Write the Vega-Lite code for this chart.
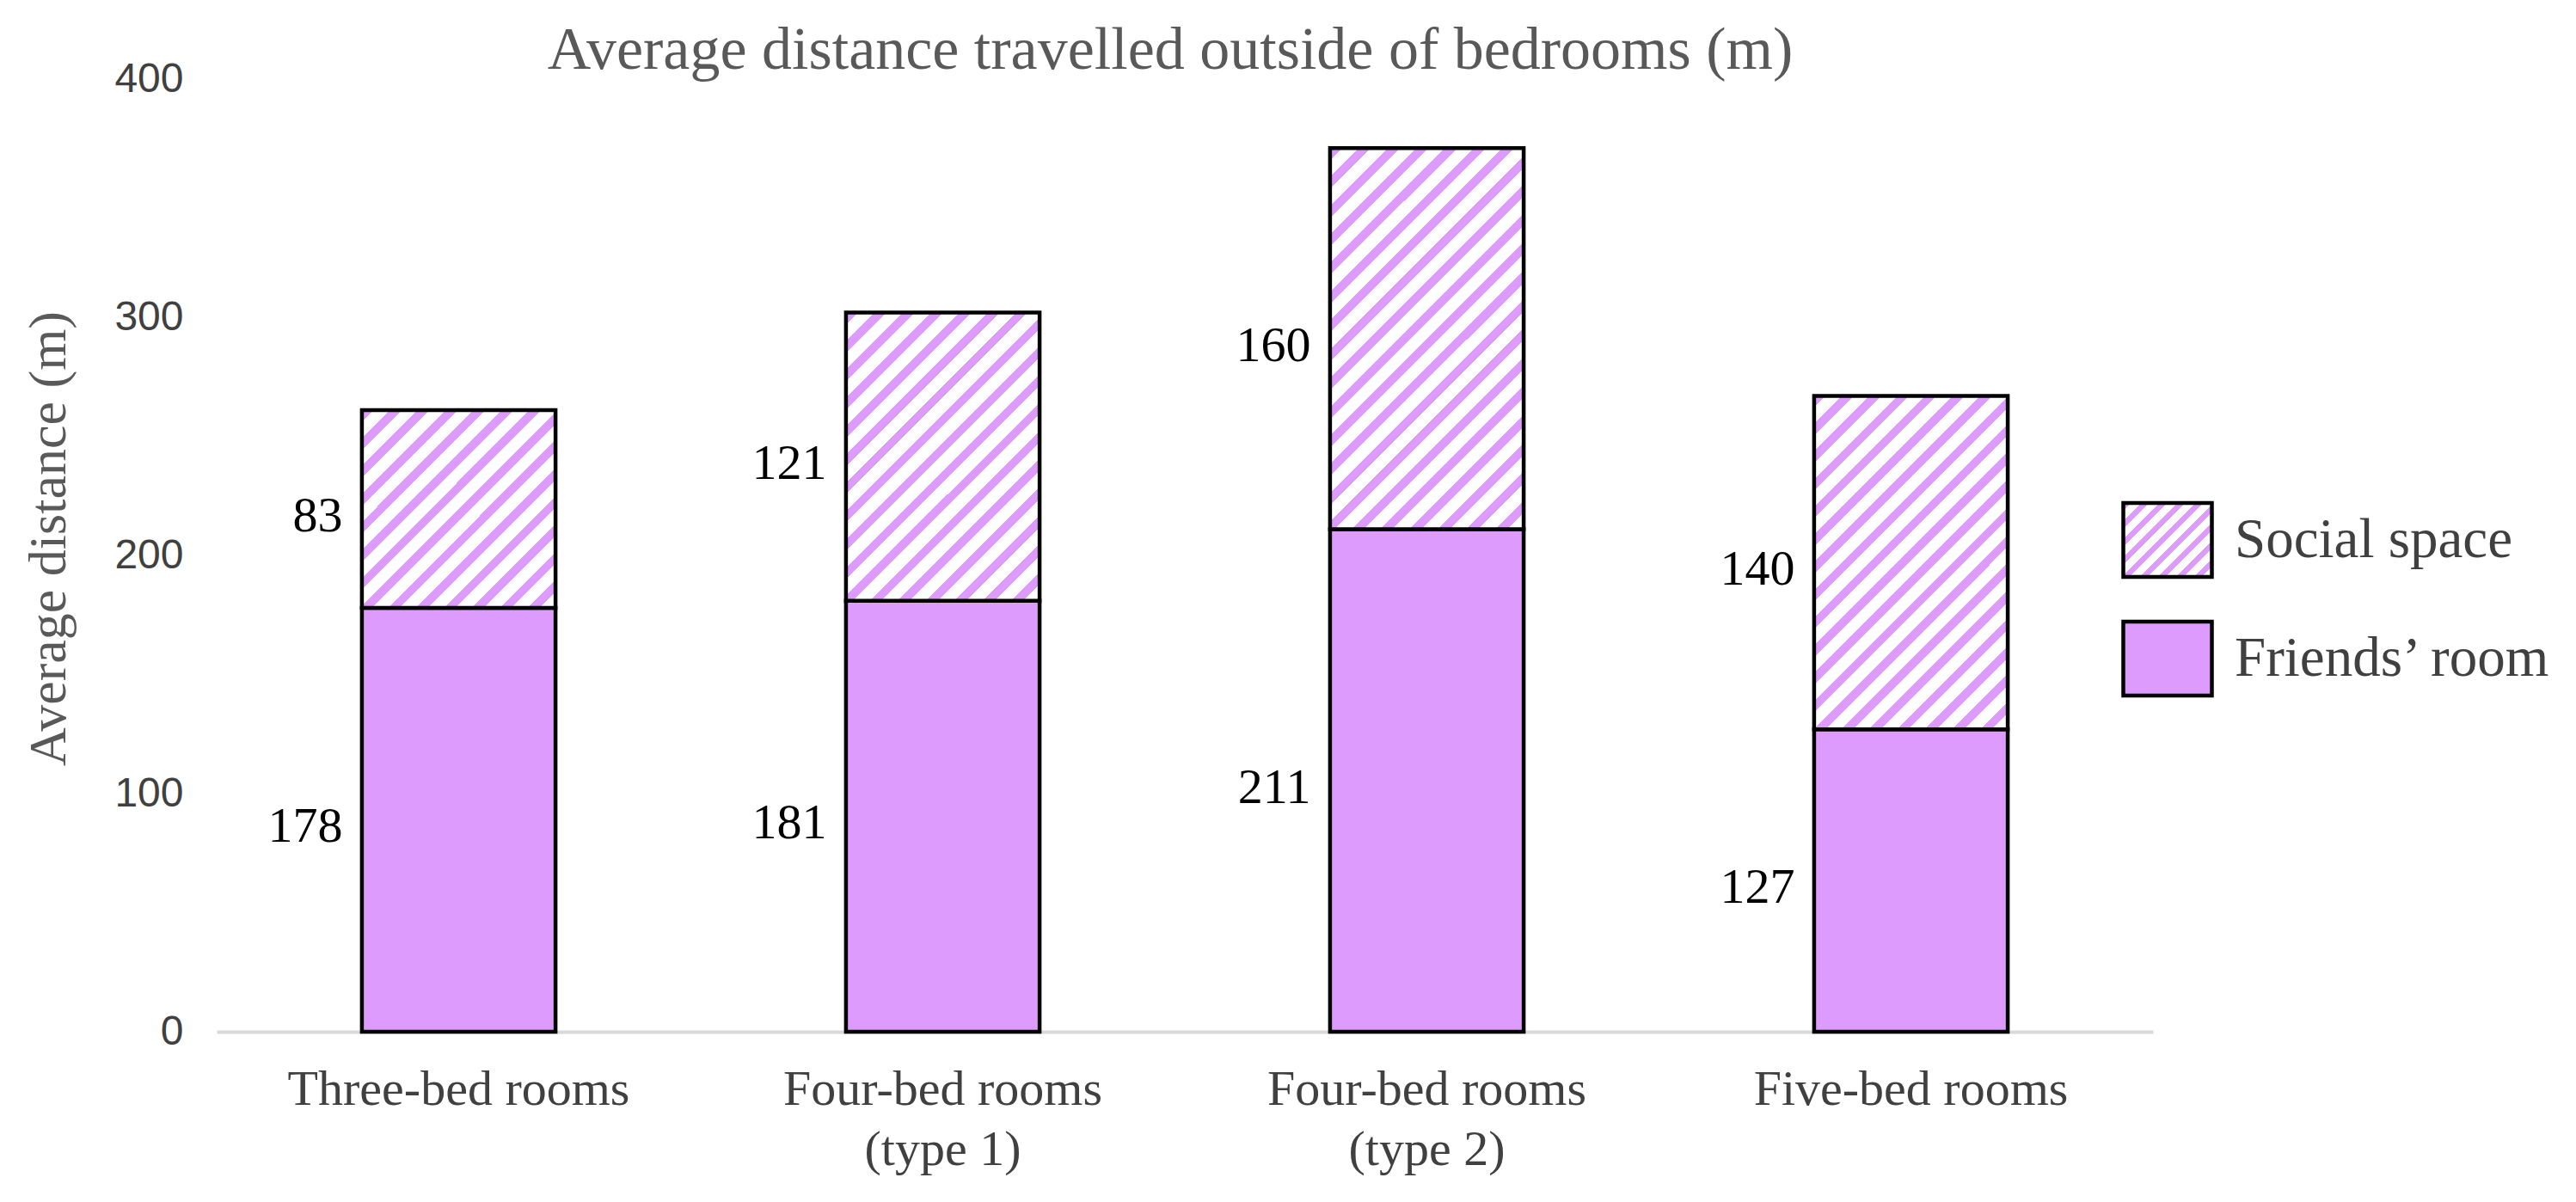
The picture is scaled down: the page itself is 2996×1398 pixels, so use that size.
{
  "$schema": "https://vega.github.io/schema/vega-lite/v6.json",
  "width": 2252,
  "height": 1108,
  "autosize": {"type": "none"},
  "padding": {"left": 252, "top": 92, "right": 492, "bottom": 198},
  "background": "white",
  "config": {"view": {"stroke": null}},
  "title": {
    "text": "Average distance travelled outside of bedrooms (m)",
    "font": "Liberation Serif",
    "fontSize": 70,
    "fontWeight": "normal",
    "color": "#595959",
    "anchor": "middle",
    "frame": "group",
    "offset": -27,
    "dx": -17
  },
  "data": {
    "values": [
      {"room": "Three-bed rooms", "segment": "Friends’ room", "distance": 178},
      {"room": "Three-bed rooms", "segment": "Social space", "distance": 83},
      {"room": "Four-bed rooms (type 1)", "segment": "Friends’ room", "distance": 181},
      {"room": "Four-bed rooms (type 1)", "segment": "Social space", "distance": 121},
      {"room": "Four-bed rooms (type 2)", "segment": "Friends’ room", "distance": 211},
      {"room": "Four-bed rooms (type 2)", "segment": "Social space", "distance": 160},
      {"room": "Five-bed rooms", "segment": "Friends’ room", "distance": 127},
      {"room": "Five-bed rooms", "segment": "Social space", "distance": 140}
    ]
  },
  "layer": [
    {
      "mark": {"type": "bar", "stroke": "black", "strokeWidth": 4.5},
      "encoding": {
        "x": {
          "field": "room", "type": "nominal", "sort": null,
          "scale": {"paddingInner": 0.6, "paddingOuter": 0.3},
          "axis": {
            "title": null, "domain": true, "domainColor": "#d9d9d9", "domainWidth": 4,
            "ticks": false, "grid": false, "labelAngle": 0,
            "labelFont": "Liberation Serif", "labelFontSize": 58, "labelColor": "#404040",
            "labelPadding": 38, "labelLineHeight": 70, "labelLimit": 0,
            "labelExpr": "indexof(datum.label, ' (') > 0 ? [substring(datum.label, 0, indexof(datum.label, ' (')), substring(datum.label, indexof(datum.label, ' (') + 1)] : datum.label"
          }
        },
        "y": {
          "field": "distance", "type": "quantitative", "stack": "zero",
          "scale": {"domain": [0, 400], "nice": false},
          "axis": {
            "values": [0, 100, 200, 300, 400], "domain": false, "ticks": false, "grid": false,
            "labelFont": "Liberation Sans", "labelFontSize": 48, "labelColor": "#404040", "labelPadding": 39,
            "title": "Average distance (m)", "titleFont": "Liberation Serif", "titleFontSize": 62,
            "titleFontWeight": "normal", "titleColor": "#595959",
            "titleX": -196, "titleY": 534, "titleAngle": -90, "titleBaseline": "middle", "titleAlign": "center"
          }
        },
        "order": {"field": "segment", "sort": "ascending"},
        "fill": {
          "field": "segment", "type": "nominal",
          "scale": {
            "domain": ["Social space", "Friends’ room"],
            "range": [
              {"expr": "{gradient: 'linear', x1: 0, y1: 0, x2: 1.081, y2: 0.903, stops: [{offset: 0, color: '#dd9bfd'}, {offset: 0.0467, color: '#dd9bfd'}, {offset: 0.0467, color: '#ffffff'}, {offset: 0.1111, color: '#ffffff'}, {offset: 0.1111, color: '#dd9bfd'}, {offset: 0.1578, color: '#dd9bfd'}, {offset: 0.1578, color: '#ffffff'}, {offset: 0.2222, color: '#ffffff'}, {offset: 0.2222, color: '#dd9bfd'}, {offset: 0.2689, color: '#dd9bfd'}, {offset: 0.2689, color: '#ffffff'}, {offset: 0.3333, color: '#ffffff'}, {offset: 0.3333, color: '#dd9bfd'}, {offset: 0.38, color: '#dd9bfd'}, {offset: 0.38, color: '#ffffff'}, {offset: 0.4444, color: '#ffffff'}, {offset: 0.4444, color: '#dd9bfd'}, {offset: 0.4911, color: '#dd9bfd'}, {offset: 0.4911, color: '#ffffff'}, {offset: 0.5556, color: '#ffffff'}, {offset: 0.5556, color: '#dd9bfd'}, {offset: 0.6022, color: '#dd9bfd'}, {offset: 0.6022, color: '#ffffff'}, {offset: 0.6667, color: '#ffffff'}, {offset: 0.6667, color: '#dd9bfd'}, {offset: 0.7133, color: '#dd9bfd'}, {offset: 0.7133, color: '#ffffff'}, {offset: 0.7778, color: '#ffffff'}, {offset: 0.7778, color: '#dd9bfd'}, {offset: 0.8244, color: '#dd9bfd'}, {offset: 0.8244, color: '#ffffff'}, {offset: 0.8889, color: '#ffffff'}, {offset: 0.8889, color: '#dd9bfd'}, {offset: 0.9356, color: '#dd9bfd'}, {offset: 0.9356, color: '#ffffff'}, {offset: 1, color: '#ffffff'}]}"},
              "#dd9bfd"
            ]
          },
          "legend": {
            "title": null, "orient": "none", "legendX": 2215, "legendY": 482, "padding": 0,
            "symbolType": "M-1,-0.835H1V0.835H-1Z", "symbolSize": 10609,
            "symbolStrokeColor": "black", "symbolStrokeWidth": 4.5, "symbolOpacity": 1,
            "labelFont": "Liberation Serif", "labelFontSize": 65, "labelColor": "#404040",
            "labelOffset": 24, "rowPadding": 31, "labelLimit": 0
          },
          "condition": [
            {"test": "datum.segment === 'Social space' && datum.room === 'Three-bed rooms'", "value":
              {"gradient": "linear", "x1": 0, "y1": 0, "x2": 0.99, "y2": 1.01, "stops": [
                {"offset": 0, "color": "#dd9bfd"}, {"offset": 0.03, "color": "#dd9bfd"}, {"offset": 0.03, "color": "#ffffff"}, {"offset": 0.0714, "color": "#ffffff"},
                {"offset": 0.0714, "color": "#dd9bfd"}, {"offset": 0.1014, "color": "#dd9bfd"}, {"offset": 0.1014, "color": "#ffffff"}, {"offset": 0.1429, "color": "#ffffff"},
                {"offset": 0.1429, "color": "#dd9bfd"}, {"offset": 0.1729, "color": "#dd9bfd"}, {"offset": 0.1729, "color": "#ffffff"}, {"offset": 0.2143, "color": "#ffffff"},
                {"offset": 0.2143, "color": "#dd9bfd"}, {"offset": 0.2443, "color": "#dd9bfd"}, {"offset": 0.2443, "color": "#ffffff"}, {"offset": 0.2857, "color": "#ffffff"},
                {"offset": 0.2857, "color": "#dd9bfd"}, {"offset": 0.3157, "color": "#dd9bfd"}, {"offset": 0.3157, "color": "#ffffff"}, {"offset": 0.3571, "color": "#ffffff"},
                {"offset": 0.3571, "color": "#dd9bfd"}, {"offset": 0.3871, "color": "#dd9bfd"}, {"offset": 0.3871, "color": "#ffffff"}, {"offset": 0.4286, "color": "#ffffff"},
                {"offset": 0.4286, "color": "#dd9bfd"}, {"offset": 0.4586, "color": "#dd9bfd"}, {"offset": 0.4586, "color": "#ffffff"}, {"offset": 0.5, "color": "#ffffff"},
                {"offset": 0.5, "color": "#dd9bfd"}, {"offset": 0.53, "color": "#dd9bfd"}, {"offset": 0.53, "color": "#ffffff"}, {"offset": 0.5714, "color": "#ffffff"},
                {"offset": 0.5714, "color": "#dd9bfd"}, {"offset": 0.6014, "color": "#dd9bfd"}, {"offset": 0.6014, "color": "#ffffff"}, {"offset": 0.6429, "color": "#ffffff"},
                {"offset": 0.6429, "color": "#dd9bfd"}, {"offset": 0.6729, "color": "#dd9bfd"}, {"offset": 0.6729, "color": "#ffffff"}, {"offset": 0.7143, "color": "#ffffff"},
                {"offset": 0.7143, "color": "#dd9bfd"}, {"offset": 0.7443, "color": "#dd9bfd"}, {"offset": 0.7443, "color": "#ffffff"}, {"offset": 0.7857, "color": "#ffffff"},
                {"offset": 0.7857, "color": "#dd9bfd"}, {"offset": 0.8157, "color": "#dd9bfd"}, {"offset": 0.8157, "color": "#ffffff"}, {"offset": 0.8571, "color": "#ffffff"},
                {"offset": 0.8571, "color": "#dd9bfd"}, {"offset": 0.8871, "color": "#dd9bfd"}, {"offset": 0.8871, "color": "#ffffff"}, {"offset": 0.9286, "color": "#ffffff"},
                {"offset": 0.9286, "color": "#dd9bfd"}, {"offset": 0.9586, "color": "#dd9bfd"}, {"offset": 0.9586, "color": "#ffffff"}, {"offset": 1, "color": "#ffffff"}
              ]}
            },
            {"test": "datum.segment === 'Social space' && datum.room === 'Four-bed rooms (type 1)'", "value":
              {"gradient": "linear", "x1": 0, "y1": 0, "x2": 0.774, "y2": 1.152, "stops": [
                {"offset": 0, "color": "#dd9bfd"}, {"offset": 0.0247, "color": "#dd9bfd"}, {"offset": 0.0247, "color": "#ffffff"}, {"offset": 0.0588, "color": "#ffffff"},
                {"offset": 0.0588, "color": "#dd9bfd"}, {"offset": 0.0835, "color": "#dd9bfd"}, {"offset": 0.0835, "color": "#ffffff"}, {"offset": 0.1176, "color": "#ffffff"},
                {"offset": 0.1176, "color": "#dd9bfd"}, {"offset": 0.1423, "color": "#dd9bfd"}, {"offset": 0.1423, "color": "#ffffff"}, {"offset": 0.1765, "color": "#ffffff"},
                {"offset": 0.1765, "color": "#dd9bfd"}, {"offset": 0.2012, "color": "#dd9bfd"}, {"offset": 0.2012, "color": "#ffffff"}, {"offset": 0.2353, "color": "#ffffff"},
                {"offset": 0.2353, "color": "#dd9bfd"}, {"offset": 0.26, "color": "#dd9bfd"}, {"offset": 0.26, "color": "#ffffff"}, {"offset": 0.2941, "color": "#ffffff"},
                {"offset": 0.2941, "color": "#dd9bfd"}, {"offset": 0.3188, "color": "#dd9bfd"}, {"offset": 0.3188, "color": "#ffffff"}, {"offset": 0.3529, "color": "#ffffff"},
                {"offset": 0.3529, "color": "#dd9bfd"}, {"offset": 0.3776, "color": "#dd9bfd"}, {"offset": 0.3776, "color": "#ffffff"}, {"offset": 0.4118, "color": "#ffffff"},
                {"offset": 0.4118, "color": "#dd9bfd"}, {"offset": 0.4365, "color": "#dd9bfd"}, {"offset": 0.4365, "color": "#ffffff"}, {"offset": 0.4706, "color": "#ffffff"},
                {"offset": 0.4706, "color": "#dd9bfd"}, {"offset": 0.4953, "color": "#dd9bfd"}, {"offset": 0.4953, "color": "#ffffff"}, {"offset": 0.5294, "color": "#ffffff"},
                {"offset": 0.5294, "color": "#dd9bfd"}, {"offset": 0.5541, "color": "#dd9bfd"}, {"offset": 0.5541, "color": "#ffffff"}, {"offset": 0.5882, "color": "#ffffff"},
                {"offset": 0.5882, "color": "#dd9bfd"}, {"offset": 0.6129, "color": "#dd9bfd"}, {"offset": 0.6129, "color": "#ffffff"}, {"offset": 0.6471, "color": "#ffffff"},
                {"offset": 0.6471, "color": "#dd9bfd"}, {"offset": 0.6718, "color": "#dd9bfd"}, {"offset": 0.6718, "color": "#ffffff"}, {"offset": 0.7059, "color": "#ffffff"},
                {"offset": 0.7059, "color": "#dd9bfd"}, {"offset": 0.7306, "color": "#dd9bfd"}, {"offset": 0.7306, "color": "#ffffff"}, {"offset": 0.7647, "color": "#ffffff"},
                {"offset": 0.7647, "color": "#dd9bfd"}, {"offset": 0.7894, "color": "#dd9bfd"}, {"offset": 0.7894, "color": "#ffffff"}, {"offset": 0.8235, "color": "#ffffff"},
                {"offset": 0.8235, "color": "#dd9bfd"}, {"offset": 0.8482, "color": "#dd9bfd"}, {"offset": 0.8482, "color": "#ffffff"}, {"offset": 0.8824, "color": "#ffffff"},
                {"offset": 0.8824, "color": "#dd9bfd"}, {"offset": 0.9071, "color": "#dd9bfd"}, {"offset": 0.9071, "color": "#ffffff"}, {"offset": 0.9412, "color": "#ffffff"},
                {"offset": 0.9412, "color": "#dd9bfd"}, {"offset": 0.9659, "color": "#dd9bfd"}, {"offset": 0.9659, "color": "#ffffff"}, {"offset": 1, "color": "#ffffff"}
              ]}
            },
            {"test": "datum.segment === 'Social space' && datum.room === 'Four-bed rooms (type 2)'", "value":
              {"gradient": "linear", "x1": 0, "y1": 0, "x2": 0.609, "y2": 1.199, "stops": [
                {"offset": 0, "color": "#dd9bfd"}, {"offset": 0.021, "color": "#dd9bfd"}, {"offset": 0.021, "color": "#ffffff"}, {"offset": 0.05, "color": "#ffffff"},
                {"offset": 0.05, "color": "#dd9bfd"}, {"offset": 0.071, "color": "#dd9bfd"}, {"offset": 0.071, "color": "#ffffff"}, {"offset": 0.1, "color": "#ffffff"},
                {"offset": 0.1, "color": "#dd9bfd"}, {"offset": 0.121, "color": "#dd9bfd"}, {"offset": 0.121, "color": "#ffffff"}, {"offset": 0.15, "color": "#ffffff"},
                {"offset": 0.15, "color": "#dd9bfd"}, {"offset": 0.171, "color": "#dd9bfd"}, {"offset": 0.171, "color": "#ffffff"}, {"offset": 0.2, "color": "#ffffff"},
                {"offset": 0.2, "color": "#dd9bfd"}, {"offset": 0.221, "color": "#dd9bfd"}, {"offset": 0.221, "color": "#ffffff"}, {"offset": 0.25, "color": "#ffffff"},
                {"offset": 0.25, "color": "#dd9bfd"}, {"offset": 0.271, "color": "#dd9bfd"}, {"offset": 0.271, "color": "#ffffff"}, {"offset": 0.3, "color": "#ffffff"},
                {"offset": 0.3, "color": "#dd9bfd"}, {"offset": 0.321, "color": "#dd9bfd"}, {"offset": 0.321, "color": "#ffffff"}, {"offset": 0.35, "color": "#ffffff"},
                {"offset": 0.35, "color": "#dd9bfd"}, {"offset": 0.371, "color": "#dd9bfd"}, {"offset": 0.371, "color": "#ffffff"}, {"offset": 0.4, "color": "#ffffff"},
                {"offset": 0.4, "color": "#dd9bfd"}, {"offset": 0.421, "color": "#dd9bfd"}, {"offset": 0.421, "color": "#ffffff"}, {"offset": 0.45, "color": "#ffffff"},
                {"offset": 0.45, "color": "#dd9bfd"}, {"offset": 0.471, "color": "#dd9bfd"}, {"offset": 0.471, "color": "#ffffff"}, {"offset": 0.5, "color": "#ffffff"},
                {"offset": 0.5, "color": "#dd9bfd"}, {"offset": 0.521, "color": "#dd9bfd"}, {"offset": 0.521, "color": "#ffffff"}, {"offset": 0.55, "color": "#ffffff"},
                {"offset": 0.55, "color": "#dd9bfd"}, {"offset": 0.571, "color": "#dd9bfd"}, {"offset": 0.571, "color": "#ffffff"}, {"offset": 0.6, "color": "#ffffff"},
                {"offset": 0.6, "color": "#dd9bfd"}, {"offset": 0.621, "color": "#dd9bfd"}, {"offset": 0.621, "color": "#ffffff"}, {"offset": 0.65, "color": "#ffffff"},
                {"offset": 0.65, "color": "#dd9bfd"}, {"offset": 0.671, "color": "#dd9bfd"}, {"offset": 0.671, "color": "#ffffff"}, {"offset": 0.7, "color": "#ffffff"},
                {"offset": 0.7, "color": "#dd9bfd"}, {"offset": 0.721, "color": "#dd9bfd"}, {"offset": 0.721, "color": "#ffffff"}, {"offset": 0.75, "color": "#ffffff"},
                {"offset": 0.75, "color": "#dd9bfd"}, {"offset": 0.771, "color": "#dd9bfd"}, {"offset": 0.771, "color": "#ffffff"}, {"offset": 0.8, "color": "#ffffff"},
                {"offset": 0.8, "color": "#dd9bfd"}, {"offset": 0.821, "color": "#dd9bfd"}, {"offset": 0.821, "color": "#ffffff"}, {"offset": 0.85, "color": "#ffffff"},
                {"offset": 0.85, "color": "#dd9bfd"}, {"offset": 0.871, "color": "#dd9bfd"}, {"offset": 0.871, "color": "#ffffff"}, {"offset": 0.9, "color": "#ffffff"},
                {"offset": 0.9, "color": "#dd9bfd"}, {"offset": 0.921, "color": "#dd9bfd"}, {"offset": 0.921, "color": "#ffffff"}, {"offset": 0.95, "color": "#ffffff"},
                {"offset": 0.95, "color": "#dd9bfd"}, {"offset": 0.971, "color": "#dd9bfd"}, {"offset": 0.971, "color": "#ffffff"}, {"offset": 1, "color": "#ffffff"}
              ]}
            },
            {"test": "datum.segment === 'Social space' && datum.room === 'Five-bed rooms'", "value":
              {"gradient": "linear", "x1": 0, "y1": 0, "x2": 0.6865, "y2": 1.182, "stops": [
                {"offset": 0, "color": "#dd9bfd"}, {"offset": 0.0221, "color": "#dd9bfd"}, {"offset": 0.0221, "color": "#ffffff"}, {"offset": 0.0526, "color": "#ffffff"},
                {"offset": 0.0526, "color": "#dd9bfd"}, {"offset": 0.0747, "color": "#dd9bfd"}, {"offset": 0.0747, "color": "#ffffff"}, {"offset": 0.1053, "color": "#ffffff"},
                {"offset": 0.1053, "color": "#dd9bfd"}, {"offset": 0.1274, "color": "#dd9bfd"}, {"offset": 0.1274, "color": "#ffffff"}, {"offset": 0.1579, "color": "#ffffff"},
                {"offset": 0.1579, "color": "#dd9bfd"}, {"offset": 0.18, "color": "#dd9bfd"}, {"offset": 0.18, "color": "#ffffff"}, {"offset": 0.2105, "color": "#ffffff"},
                {"offset": 0.2105, "color": "#dd9bfd"}, {"offset": 0.2326, "color": "#dd9bfd"}, {"offset": 0.2326, "color": "#ffffff"}, {"offset": 0.2632, "color": "#ffffff"},
                {"offset": 0.2632, "color": "#dd9bfd"}, {"offset": 0.2853, "color": "#dd9bfd"}, {"offset": 0.2853, "color": "#ffffff"}, {"offset": 0.3158, "color": "#ffffff"},
                {"offset": 0.3158, "color": "#dd9bfd"}, {"offset": 0.3379, "color": "#dd9bfd"}, {"offset": 0.3379, "color": "#ffffff"}, {"offset": 0.3684, "color": "#ffffff"},
                {"offset": 0.3684, "color": "#dd9bfd"}, {"offset": 0.3905, "color": "#dd9bfd"}, {"offset": 0.3905, "color": "#ffffff"}, {"offset": 0.4211, "color": "#ffffff"},
                {"offset": 0.4211, "color": "#dd9bfd"}, {"offset": 0.4432, "color": "#dd9bfd"}, {"offset": 0.4432, "color": "#ffffff"}, {"offset": 0.4737, "color": "#ffffff"},
                {"offset": 0.4737, "color": "#dd9bfd"}, {"offset": 0.4958, "color": "#dd9bfd"}, {"offset": 0.4958, "color": "#ffffff"}, {"offset": 0.5263, "color": "#ffffff"},
                {"offset": 0.5263, "color": "#dd9bfd"}, {"offset": 0.5484, "color": "#dd9bfd"}, {"offset": 0.5484, "color": "#ffffff"}, {"offset": 0.5789, "color": "#ffffff"},
                {"offset": 0.5789, "color": "#dd9bfd"}, {"offset": 0.601, "color": "#dd9bfd"}, {"offset": 0.601, "color": "#ffffff"}, {"offset": 0.6316, "color": "#ffffff"},
                {"offset": 0.6316, "color": "#dd9bfd"}, {"offset": 0.6537, "color": "#dd9bfd"}, {"offset": 0.6537, "color": "#ffffff"}, {"offset": 0.6842, "color": "#ffffff"},
                {"offset": 0.6842, "color": "#dd9bfd"}, {"offset": 0.7063, "color": "#dd9bfd"}, {"offset": 0.7063, "color": "#ffffff"}, {"offset": 0.7368, "color": "#ffffff"},
                {"offset": 0.7368, "color": "#dd9bfd"}, {"offset": 0.7589, "color": "#dd9bfd"}, {"offset": 0.7589, "color": "#ffffff"}, {"offset": 0.7895, "color": "#ffffff"},
                {"offset": 0.7895, "color": "#dd9bfd"}, {"offset": 0.8116, "color": "#dd9bfd"}, {"offset": 0.8116, "color": "#ffffff"}, {"offset": 0.8421, "color": "#ffffff"},
                {"offset": 0.8421, "color": "#dd9bfd"}, {"offset": 0.8642, "color": "#dd9bfd"}, {"offset": 0.8642, "color": "#ffffff"}, {"offset": 0.8947, "color": "#ffffff"},
                {"offset": 0.8947, "color": "#dd9bfd"}, {"offset": 0.9168, "color": "#dd9bfd"}, {"offset": 0.9168, "color": "#ffffff"}, {"offset": 0.9474, "color": "#ffffff"},
                {"offset": 0.9474, "color": "#dd9bfd"}, {"offset": 0.9695, "color": "#dd9bfd"}, {"offset": 0.9695, "color": "#ffffff"}, {"offset": 1, "color": "#ffffff"}
              ]}
            }
          ]
        }
      }
    },
    {
      "mark": {"type": "text", "align": "right", "baseline": "middle", "dx": -135, "dy": 9, "font": "Liberation Serif", "fontSize": 58, "color": "black"},
      "encoding": {
        "x": {"field": "room", "type": "nominal", "sort": null},
        "y": {"field": "distance", "type": "quantitative", "stack": "zero", "bandPosition": 0.5},
        "detail": {"field": "segment", "type": "nominal"},
        "order": {"field": "segment", "sort": "ascending"},
        "text": {"field": "distance", "type": "quantitative"}
      }
    }
  ]
}
